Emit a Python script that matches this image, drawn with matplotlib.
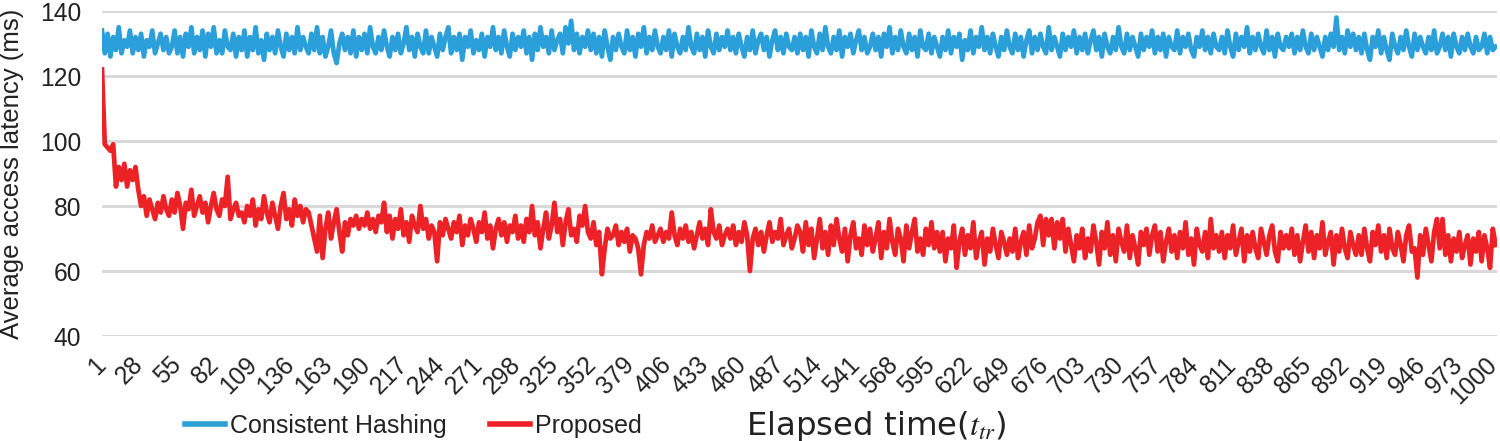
import matplotlib
matplotlib.use("Agg")
import matplotlib.pyplot as plt
import numpy as np

elapsed = list(range(1, 1001, 2))

consistent_hashing = [
    134, 127, 133, 126, 132, 128, 135, 127, 131, 129, 134, 127, 132, 128, 133, 126, 131, 129, 134, 127, 130, 133, 128, 132, 127,
    129, 134, 127, 132, 126, 133, 129, 135, 127, 132, 128, 134, 126, 133, 129, 135, 127, 131, 127, 134, 129, 128, 133, 126, 132,
    128, 134, 126, 132, 128, 135, 127, 131, 125, 133, 128, 132, 127, 134, 129, 126, 133, 128, 132, 127, 135, 128, 132, 129, 127,
    133, 128, 135, 127, 132, 126, 129, 134, 127, 124, 130, 133, 128, 132, 127, 134, 126, 132, 128, 133, 127, 135, 129, 127, 132,
    128, 134, 129, 126, 132, 128, 133, 127, 130, 135, 128, 132, 126, 133, 129, 127, 134, 127, 132, 129, 126, 133, 128, 132, 135,
    127, 132, 128, 133, 125, 132, 129, 134, 127, 131, 128, 133, 126, 132, 129, 135, 128, 132, 127, 134, 129, 126, 133, 128, 132,
    129, 134, 127, 132, 125, 133, 128, 135, 129, 132, 127, 134, 128, 131, 133, 127, 135, 130, 137, 128, 133, 127, 132, 129, 134,
    128, 133, 127, 132, 126, 134, 129, 125, 132, 128, 133, 129, 127, 134, 128, 132, 126, 133, 129, 135, 127, 132, 128, 134, 129,
    127, 132, 128, 134, 126, 133, 129, 127, 132, 128, 135, 129, 127, 133, 128, 132, 126, 134, 129, 127, 133, 128, 132, 129, 134,
    128, 132, 127, 133, 129, 126, 132, 128, 134, 127, 131, 133, 128, 132, 126, 131, 134, 128, 132, 127, 133, 129, 128, 132, 127,
    133, 128, 132, 126, 134, 129, 127, 133, 128, 135, 129, 127, 132, 128, 134, 126, 132, 129, 133, 127, 131, 134, 128, 132, 127,
    129, 133, 128, 132, 126, 133, 129, 135, 127, 132, 128, 134, 129, 127, 133, 128, 132, 126, 134, 129, 128, 133, 127, 132, 129,
    126, 132, 128, 134, 127, 132, 129, 133, 125, 131, 128, 134, 127, 132, 129, 135, 128, 132, 127, 133, 129, 126, 132, 128, 134,
    129, 127, 133, 128, 132, 126, 131, 134, 127, 132, 128, 133, 129, 127, 135, 128, 132, 129, 126, 133, 128, 132, 129, 134, 127,
    132, 128, 133, 127, 131, 134, 128, 132, 126, 133, 129, 127, 132, 128, 135, 129, 127, 133, 128, 132, 129, 126, 133, 128, 132,
    129, 134, 127, 132, 128, 133, 126, 132, 129, 128, 134, 127, 132, 129, 133, 128, 126, 132, 129, 134, 128, 132, 127, 133, 129,
    128, 132, 127, 134, 129, 126, 133, 128, 132, 129, 135, 127, 132, 128, 133, 129, 127, 134, 128, 132, 126, 133, 129, 128, 132,
    129, 133, 127, 132, 128, 134, 129, 127, 133, 128, 132, 129, 126, 132, 128, 133, 129, 138, 128, 132, 127, 134, 129, 133, 128,
    132, 127, 133, 128, 125, 132, 129, 134, 127, 132, 128, 125, 133, 129, 127, 132, 128, 134, 129, 126, 133, 128, 132, 129, 127,
    132, 128, 134, 127, 129, 133, 128, 132, 126, 133, 129, 127, 132, 128, 133, 129, 127, 132, 128, 129, 133, 127, 132, 128, 129,
]

proposed = [
    122, 99, 98, 97, 99, 86, 92, 88, 93, 86, 91, 88, 92, 85, 80, 83, 77, 82, 79, 76, 81, 78, 83, 79, 77,
    82, 78, 84, 80, 73, 81, 79, 85, 77, 80, 83, 78, 81, 75, 80, 84, 79, 77, 82, 80, 89, 76, 79, 81, 77,
    78, 75, 80, 77, 82, 74, 79, 76, 83, 78, 75, 81, 77, 73, 80, 84, 76, 79, 74, 82, 77, 80, 75, 79, 78,
    74, 70, 66, 77, 64, 73, 78, 70, 75, 79, 72, 66, 75, 71, 76, 74, 77, 73, 76, 74, 78, 73, 76, 72, 77,
    75, 81, 72, 77, 70, 76, 73, 79, 71, 75, 69, 77, 74, 72, 80, 73, 76, 70, 74, 72, 63, 75, 71, 76, 73,
    70, 75, 72, 77, 68, 74, 71, 76, 73, 69, 75, 72, 78, 70, 74, 67, 73, 76, 71, 75, 69, 74, 72, 77, 70,
    74, 69, 76, 72, 80, 71, 75, 67, 73, 78, 70, 74, 81, 72, 76, 68, 75, 79, 71, 73, 69, 77, 74, 80, 72,
    70, 75, 68, 72, 59, 67, 73, 70, 71, 74, 68, 72, 69, 73, 66, 71, 70, 67, 59, 68, 72, 70, 74, 69, 71,
    73, 69, 72, 70, 78, 71, 68, 73, 70, 74, 69, 72, 67, 71, 75, 70, 73, 68, 79, 72, 70, 74, 68, 71, 73,
    70, 74, 68, 72, 69, 75, 71, 60, 70, 73, 68, 72, 66, 71, 75, 69, 72, 70, 76, 68, 71, 73, 67, 70, 74,
    72, 66, 75, 68, 73, 64, 70, 76, 67, 72, 65, 74, 68, 76, 70, 66, 73, 63, 71, 75, 67, 70, 65, 74, 68,
    73, 66, 70, 75, 64, 72, 67, 76, 69, 65, 73, 70, 63, 74, 67, 72, 76, 66, 70, 65, 73, 68, 75, 67, 72,
    66, 72, 63, 70, 67, 74, 61, 69, 73, 65, 71, 67, 75, 64, 69, 72, 62, 70, 66, 73, 68, 64, 72, 69, 65,
    70, 66, 73, 64, 69, 72, 65, 74, 67, 70, 75, 77, 68, 76, 71, 76, 67, 75, 70, 76, 66, 73, 68, 63, 71,
    67, 73, 64, 70, 66, 74, 69, 62, 72, 67, 75, 65, 71, 63, 73, 69, 66, 74, 64, 71, 67, 62, 72, 68, 73,
    65, 71, 74, 66, 72, 63, 69, 73, 66, 71, 64, 72, 67, 75, 65, 70, 62, 73, 68, 66, 72, 64, 76, 67, 71,
    66, 72, 64, 71, 67, 74, 65, 69, 73, 63, 71, 66, 72, 67, 64, 73, 69, 65, 71, 74, 66, 63, 72, 67, 71,
    67, 73, 65, 71, 63, 69, 74, 66, 72, 64, 71, 67, 75, 65, 69, 72, 62, 71, 66, 73, 67, 64, 72, 68, 65,
    71, 65, 73, 67, 63, 72, 68, 74, 66, 71, 64, 73, 67, 65, 72, 68, 63, 71, 74, 66, 67, 58, 71, 65, 73,
    68, 63, 72, 76, 67, 76, 65, 71, 63, 70, 66, 72, 64, 68, 71, 62, 70, 66, 72, 63, 71, 67, 61, 73, 68,
]

x_ticks = list(range(1, 1001, 27)) + [1000]
y_ticks = [40, 60, 80, 100, 120, 140]

series_names = ["Consistent Hashing", "Proposed"]
series_colors = ["#2a9fda", "#ec2227"]

# ---------------- figure ----------------
plt.rcParams["font.family"] = ["Liberation Sans", "DejaVu Sans"]
plt.rcParams["mathtext.fontset"] = "stix"

TICK_FS = 17.7
X_PAD_PT = 18

fig = plt.figure(figsize=(15, 4.41), dpi=100)
ax = fig.add_axes([0.068, 0.238, 0.930, 0.737])

ax.plot(elapsed, consistent_hashing, color=series_colors[0], lw=3.4,
        solid_joinstyle="round", label=series_names[0], zorder=3)
ax.plot(elapsed, proposed, color=series_colors[1], lw=3.4,
        solid_joinstyle="round", label=series_names[1], zorder=3)

ax.set_xlim(1, 1000)
ax.set_ylim(40, 140)
ax.set_yticks(y_ticks)
ax.set_xticks(x_ticks)
# all labels but the last go through the axis; the last one is nudged
# a few pixels left so it stays inside the canvas
tick_texts = [str(t) for t in x_ticks]
ax.set_xticklabels(tick_texts[:-1] + [""], rotation=45, ha="right",
                   va="center", rotation_mode="anchor")
ax.annotate(tick_texts[-1], xy=(x_ticks[-1], 0), xycoords=ax.get_xaxis_transform(),
            xytext=(-4, -X_PAD_PT * 100 / 72), textcoords="offset pixels",
            rotation=45, ha="right", va="center", rotation_mode="anchor",
            fontsize=TICK_FS, color="#222222", annotation_clip=False)

ax.tick_params(axis="both", length=0, labelsize=TICK_FS, colors="#222222")
ax.tick_params(axis="y", pad=15)
ax.tick_params(axis="x", pad=X_PAD_PT)

ax.grid(axis="y", color="#d9d9d9", lw=2.2, zorder=0)
ax.set_axisbelow(True)
for s in ax.spines.values():
    s.set_visible(False)

ax.set_ylabel("Average access latency (ms)", fontsize=18.5, color="#222222")
ax.yaxis.set_label_coords(-0.056, 0.5)

ax.set_xlabel(r"Elapsed time($t_{tr}$)", fontsize=23.3, color="#222222",
              family=["DejaVu Sans"], va="center")
ax.xaxis.set_label_coords((876 - 102) / 1395, (336 - 426) / 325)

leg = fig.legend(loc="center left", bbox_to_anchor=(185 / 1500, 1 - 426 / 441),
                 ncol=2, frameon=False, fontsize=18, handlelength=1.6,
                 handletextpad=0.2, columnspacing=1.75, borderpad=0,
                 borderaxespad=0)
for line in leg.get_lines():
    line.set_linewidth(4)
for t in leg.get_texts():
    t.set_color("#222222")

fig.savefig("out.png", dpi=100)
